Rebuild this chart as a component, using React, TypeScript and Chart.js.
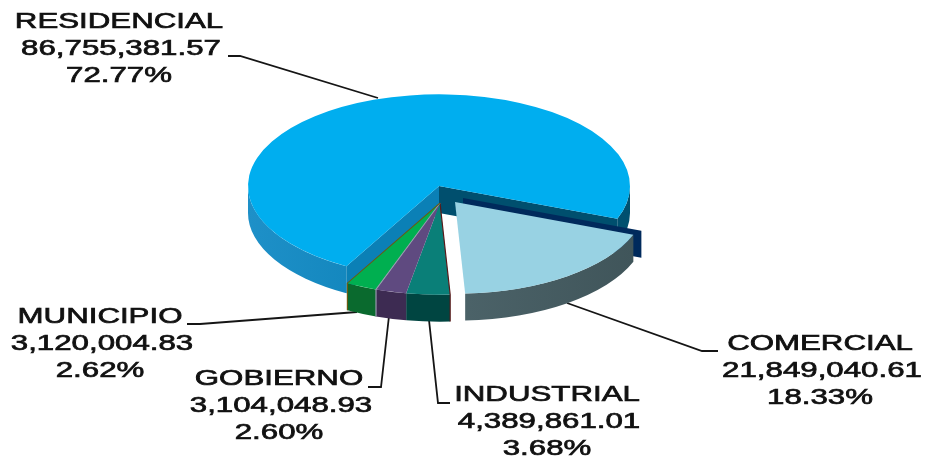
import React, { useEffect, useRef } from "react";
import { Chart, registerables } from "chart.js";

Chart.register(...registerables);

const categories = ["RESIDENCIAL", "COMERCIAL", "INDUSTRIAL", "GOBIERNO", "MUNICIPIO"];
const amounts = [86755381.57, 21849040.61, 4389861.01, 3104048.93, 3120004.83];
const topColors = ["#00AEEF", "#98D2E3", "#0A7F78", "#5F4A80", "#00AF50"];
const wallColors = ["#0B80B6", "#3F5459", "#004541", "#3D2B52", "#0A6A2E"];
const seamColors = ["#0A6F9E", "#4A6066", "#5A1A1A", "#9A9AB0", "#6B5A10"];

const W = 927;
const H = 459;
const SQUASH = 0.48;
const DEPTH = 27;
const apexes = [
  [439, 186],
  [455, 202],
  [440, 203],
  [440, 203],
  [440, 203],
];
const labelPlaces = [
  { x: 119, y: 22, lead: [[228, 56], [240, 56], [378, 98]] },
  { x: 820, y: 344, lead: [[718, 351], [702, 351], [567, 303]] },
  { x: 547, y: 395, lead: [[450, 403], [438, 403], [429, 320]] },
  { x: 279, y: 379, lead: [[368, 387], [381, 387], [389, 316]] },
  { x: 100, y: 317, lead: [[187, 324], [200, 324], [357, 312]] },
];

const total = amounts.reduce((a, b) => a + b, 0);
const money = (v: number) =>
  v.toLocaleString("en-US", { minimumFractionDigits: 2, maximumFractionDigits: 2 });

function outerWall(ctx: any, el: any, a0: number, a1: number, fill: any, dx = 0, dy = 0) {
  ctx.beginPath();
  ctx.arc(el.x + dx, el.y + dy, el.outerRadius, a0, a1);
  ctx.arc(el.x + dx, el.y + dy + DEPTH / SQUASH, el.outerRadius, a1, a0, true);
  ctx.closePath();
  ctx.fillStyle = fill;
  ctx.fill();
}

function cutWall(ctx: any, el: any, a: number, fill: any, dx = 0, dy = 0) {
  const d = DEPTH / SQUASH;
  const x0 = el.x + dx;
  const y0 = el.y + dy;
  const x1 = x0 + el.outerRadius * Math.cos(a);
  const y1 = y0 + el.outerRadius * Math.sin(a);
  ctx.beginPath();
  ctx.moveTo(x0, y0);
  ctx.lineTo(x1, y1);
  ctx.lineTo(x1, y1 + d);
  ctx.lineTo(x0, y0 + d);
  ctx.closePath();
  ctx.fillStyle = fill;
  ctx.fill();
}

// Parts of an arc that face the viewer (canvas angle between 0 and PI).
function frontSpans(a0: number, a1: number) {
  const spans: number[][] = [];
  for (let n = -1; n <= 2; n++) {
    const lo = Math.max(a0, n * 2 * Math.PI);
    const hi = Math.min(a1, n * 2 * Math.PI + Math.PI);
    if (hi > lo) spans.push([lo, hi]);
  }
  return spans;
}

const pie3d = {
  id: "pie3d",
  afterDatasetsUpdate(chart: any) {
    chart.getDatasetMeta(0).data.forEach((el: any, i: number) => {
      el.x = apexes[i][0];
      el.y = apexes[i][1] / SQUASH;
    });
  },
  beforeDatasetsDraw(chart: any) {
    const ctx = chart.ctx;
    const els = chart.getDatasetMeta(0).data;

    ctx.save();
    ctx.strokeStyle = "#151515";
    ctx.lineWidth = 1.8;
    labelPlaces.forEach((p) => {
      ctx.beginPath();
      p.lead.forEach(([x, y], k) => (k ? ctx.lineTo(x, y) : ctx.moveTo(x, y)));
      ctx.stroke();
    });
    ctx.restore();

    ctx.save();
    ctx.scale(1, SQUASH);

    // Large slice: cut faces and rim
    const big = els[0];
    cutWall(ctx, big, big.endAngle, "#004F6E");
    frontSpans(big.startAngle, big.endAngle).forEach(([lo, hi]) => {
      const right = Math.cos((lo + hi) / 2) > 0;
      if (right) {
        outerWall(ctx, big, lo, hi, "#00506F");
      } else {
        const g = ctx.createLinearGradient(big.x - big.outerRadius, 0, big.x, 0);
        g.addColorStop(0, "#1E90C8");
        g.addColorStop(1, wallColors[0]);
        outerWall(ctx, big, lo, hi, g);
      }
    });
    cutWall(ctx, big, big.startAngle, wallColors[0]);

    // Pulled slice: dark back face, then rim
    const pulled = els[1];
    cutWall(ctx, pulled, pulled.startAngle, "#002A5C", 8, -4 / SQUASH);
    frontSpans(pulled.startAngle, pulled.endAngle).forEach(([lo, hi]) => {
      const g = ctx.createLinearGradient(pulled.x, 0, pulled.x + pulled.outerRadius, 0);
      g.addColorStop(0, "#4C6369");
      g.addColorStop(1, wallColors[1]);
      outerWall(ctx, pulled, lo, hi, g);
    });

    // Small slices: rims
    [2, 3, 4].forEach((i) => {
      const el = els[i];
      frontSpans(el.startAngle, el.endAngle).forEach(([lo, hi]) =>
        outerWall(ctx, el, lo, hi, wallColors[i])
      );
    });
  },
  afterDatasetsDraw(chart: any) {
    const ctx = chart.ctx;
    const els = chart.getDatasetMeta(0).data;
    [2, 3, 4].forEach((i) => {
      const el = els[i];
      const a = i === 2 ? el.startAngle : el.endAngle;
      const ex = el.x + el.outerRadius * Math.cos(a);
      const ey = el.y + el.outerRadius * Math.sin(a);
      ctx.beginPath();
      ctx.moveTo(el.x, el.y);
      ctx.lineTo(ex, ey);
      ctx.lineTo(ex, ey + DEPTH / SQUASH);
      ctx.strokeStyle = seamColors[i];
      ctx.lineWidth = 1.2;
      ctx.stroke();
    });
    ctx.restore();

    // Text, stretched sideways
    ctx.save();
    ctx.font = '22px "Liberation Sans"';
    ctx.textAlign = "center";
    ctx.textBaseline = "middle";
    ctx.fillStyle = "#111";
    ctx.strokeStyle = "#111";
    ctx.lineWidth = 0.7;
    categories.forEach((name, i) => {
      const lines = [name, money(amounts[i]), ((amounts[i] / total) * 100).toFixed(2) + "%"];
      lines.forEach((t, k) => {
        ctx.save();
        ctx.translate(labelPlaces[i].x + (k === 1 ? 2 : 0), labelPlaces[i].y + k * 27);
        ctx.scale(1.42, 1);
        ctx.fillText(t, 0, 0);
        ctx.strokeText(t, 0, 0);
        ctx.restore();
      });
    });
    ctx.restore();
  },
};

export default function App() {
  const ref = useRef<HTMLCanvasElement>(null);
  useEffect(() => {
    const chart = new Chart(ref.current as HTMLCanvasElement, {
      type: "pie",
      data: {
        labels: categories,
        datasets: [
          {
            data: amounts,
            backgroundColor: topColors,
            borderWidth: 0,
            clip: false,
          } as any,
        ],
      },
      options: {
        responsive: false,
        animation: false,
        rotation: 209,
        layout: { padding: { top: 38.5, bottom: 38.5 } },
        events: [],
        plugins: { legend: { display: false }, tooltip: { enabled: false } },
      },
      plugins: [pie3d],
    });
    return () => chart.destroy();
  }, []);
  return (
    <div style={{ position: "absolute", left: 0, top: 0, width: W, height: H, background: "#fff" }}>
      <canvas ref={ref} width={W} height={H} style={{ display: "block", filter: "blur(0.4px)" }} />
    </div>
  );
}
